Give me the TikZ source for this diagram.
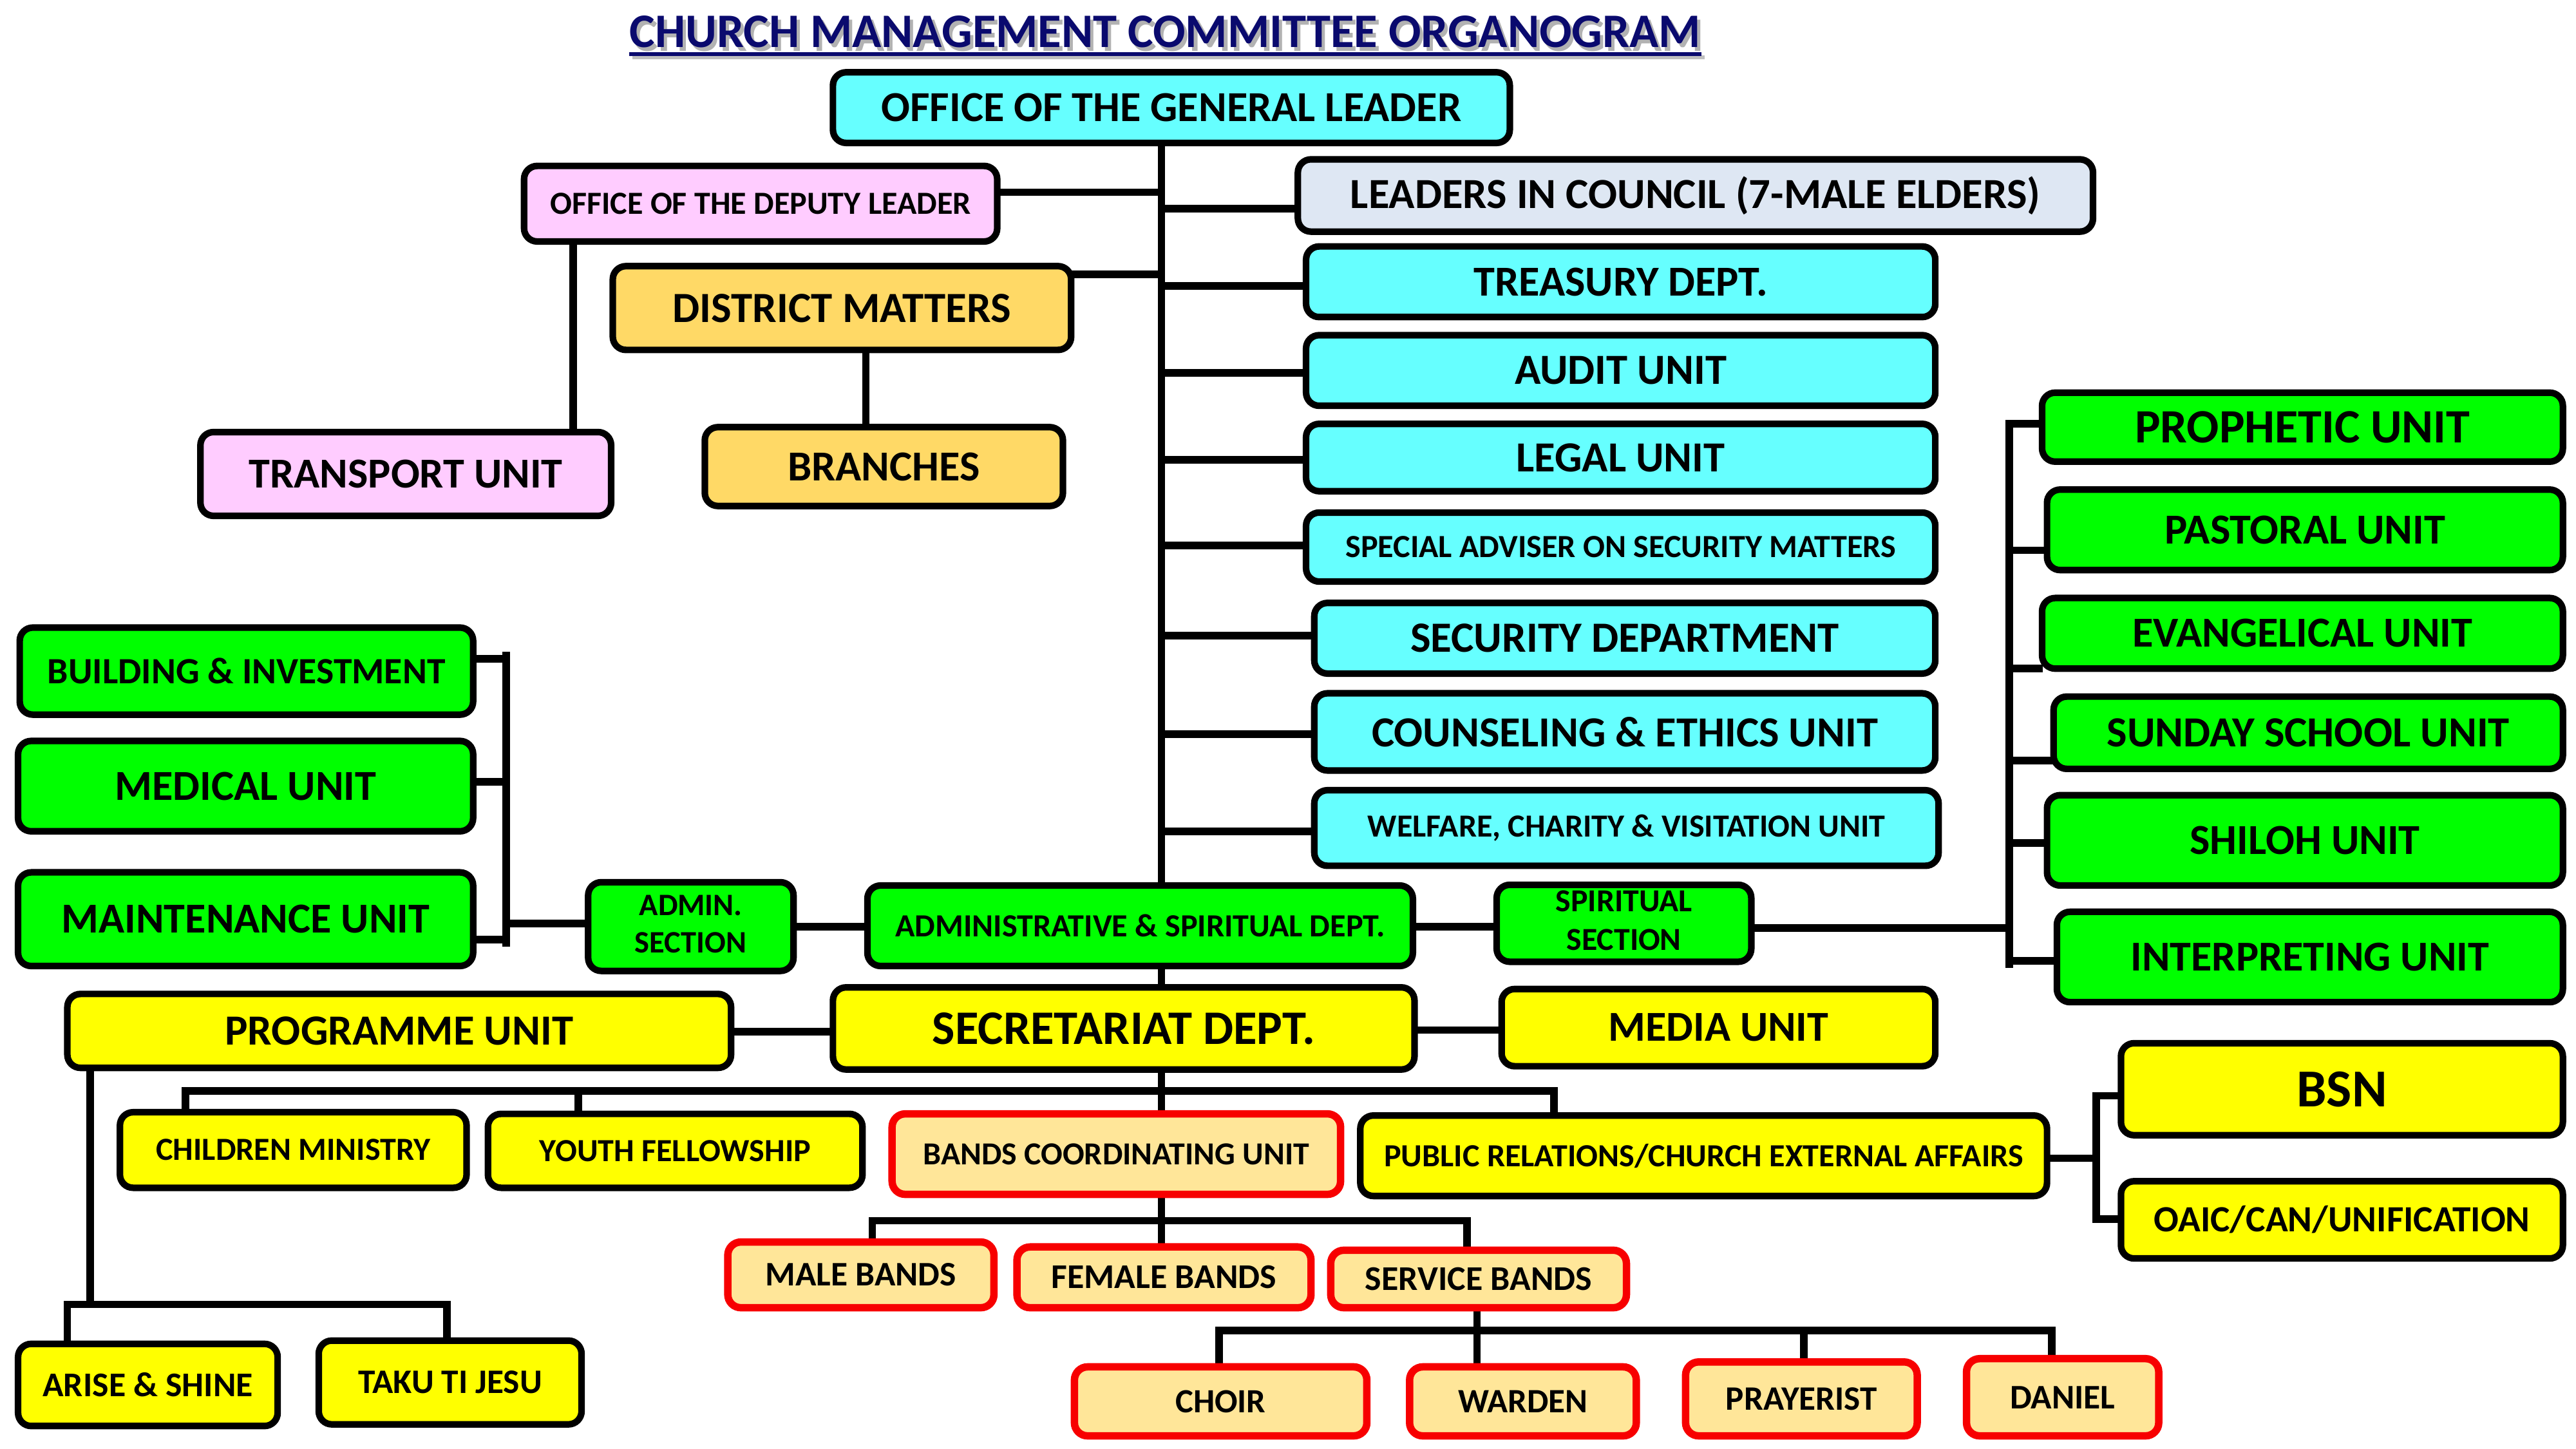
\documentclass[tikz,border=0pt]{standalone}
\usepackage{fontspec}
\setmainfont{Carlito}
\usepackage{graphicx}
\usetikzlibrary{backgrounds}
\definecolor{ccyan}{HTML}{66FFFF}
\definecolor{cpink}{HTML}{FFCCFF}
\definecolor{clblue}{HTML}{DEE7F3}
\definecolor{cgold}{HTML}{FFD966}
\definecolor{cgreen}{HTML}{00FF00}
\definecolor{cyell}{HTML}{FFFF00}
\definecolor{cband}{HTML}{FFE699}
\definecolor{cred}{HTML}{F70000}
\definecolor{ctitle}{RGB}{10,10,110}
\newcommand{\orgbox}[8]{%
  \pgfmathsetmacro{\obw}{#5-#3-4}%
  \pgfmathsetmacro{\obh}{#6-#4-4}%
  \pgfmathsetmacro{\obx}{(#3+#5)/2}%
  \pgfmathsetmacro{\oby}{(#4+#6)/2}%
  \node[#1, minimum width=\obw pt, minimum height=\obh pt] (#2) at (\obx,\oby) {\resizebox{#7pt}{!}{#8}};%
}
\newcommand{\twol}[2]{\begin{tabular}{@{}c@{}}#1\\#2\end{tabular}}
\tikzset{
  basebox/.style={draw=black, line width=4pt, rounded corners=8pt, inner sep=0pt, font=\bfseries, text=black},
  cbox/.style={basebox, fill=ccyan},
  pbox/.style={basebox, fill=cpink},
  lbbox/.style={basebox, fill=clblue},
  gdbox/.style={basebox, fill=cgold},
  grbox/.style={basebox, fill=cgreen},
  ylbox/.style={basebox, fill=cyell},
  bdbox/.style={basebox, draw=cred, line width=4.5pt, fill=cband},
  conn/.style={draw=black, line width=4.6pt, line cap=rect}
}
\begin{document}
\begin{tikzpicture}[x=1pt, y=-1pt]
\useasboundingbox (0,0) rectangle (1568,882);

% title
\node[anchor=base west, inner sep=0pt, text=gray!60, font=\bfseries] (tshadow) at (385,31) {\resizebox{652pt}{!}{CHURCH MANAGEMENT COMMITTEE ORGANOGRAM}};
\node[anchor=base west, inner sep=0pt, text=ctitle, font=\bfseries] (title) at (383,29) {\resizebox{652pt}{!}{CHURCH MANAGEMENT COMMITTEE ORGANOGRAM}};
\draw[gray!50, line width=2.5pt] (tshadow.base west |- 0,35) -- (tshadow.base east |- 0,35);
\draw[ctitle, line width=2.5pt] (title.base west |- 0,33) -- (title.base east |- 0,33);

% boxes
\orgbox{cbox}{gl}{505}{42}{921}{89}{353}{OFFICE OF THE GENERAL LEADER}
\orgbox{pbox}{dep}{317}{99}{609}{149}{256}{OFFICE OF THE DEPUTY LEADER}
\orgbox{lbbox}{lic}{788}{95}{1276}{143}{420}{LEADERS IN COUNCIL (7-MALE ELDERS)}
\orgbox{gdbox}{dis}{371}{160}{654}{215}{206}{DISTRICT MATTERS}
\orgbox{gdbox}{br}{427}{258}{649}{310}{117}{BRANCHES}
\orgbox{pbox}{tra}{120}{261}{374}{316}{191}{TRANSPORT UNIT}
\orgbox{cbox}{tre}{793}{148}{1180}{195}{179}{TREASURY DEPT.}
\orgbox{cbox}{aud}{793}{202}{1180}{249}{129}{AUDIT UNIT}
\orgbox{cbox}{leg}{793}{256}{1180}{301}{127}{LEGAL UNIT}
\orgbox{cbox}{spa}{793}{310}{1180}{356}{335}{SPECIAL ADVISER ON SECURITY MATTERS}
\orgbox{cbox}{sec}{798}{365}{1180}{412}{261}{SECURITY DEPARTMENT}
\orgbox{cbox}{cou}{798}{420}{1180}{471}{308}{COUNSELING \& ETHICS UNIT}
\orgbox{cbox}{wel}{798}{479}{1182}{529}{315}{WELFARE, CHARITY \& VISITATION UNIT}
\orgbox{grbox}{pro}{1241}{237}{1562}{283}{204}{PROPHETIC UNIT}
\orgbox{grbox}{pas}{1244}{296}{1562}{349}{171}{PASTORAL UNIT}
\orgbox{grbox}{eva}{1241}{362}{1562}{409}{207}{EVANGELICAL UNIT}
\orgbox{grbox}{sun}{1248}{422}{1562}{470}{245}{SUNDAY SCHOOL UNIT}
\orgbox{grbox}{shi}{1244}{482}{1562}{541}{140}{SHILOH UNIT}
\orgbox{grbox}{int}{1250}{553}{1562}{612}{218}{INTERPRETING UNIT}
\orgbox{grbox}{bui}{10}{380}{290}{437}{242}{BUILDING \& INVESTMENT}
\orgbox{grbox}{med}{9}{449}{290}{508}{159}{MEDICAL UNIT}
\orgbox{grbox}{mai}{9}{529}{290}{590}{224}{MAINTENANCE UNIT}
\orgbox{grbox}{adm}{356}{535}{485}{593}{68}{\twol{ADMIN.}{SECTION}}
\orgbox{grbox}{ads}{526}{537}{862}{590}{298}{ADMINISTRATIVE \& SPIRITUAL DEPT.}
\orgbox{grbox}{spi}{909}{537}{1068}{587}{83}{\twol{SPIRITUAL}{SECTION}}
\orgbox{ylbox}{prg}{39}{603}{447}{652}{212}{PROGRAMME UNIT}
\orgbox{ylbox}{sct}{505}{599}{863}{653}{233}{SECRETARIAT DEPT.}
\orgbox{ylbox}{mdu}{912}{600}{1180}{651}{134}{MEDIA UNIT}
\orgbox{ylbox}{bsn}{1289}{633}{1562}{693}{55}{BSN}
\orgbox{ylbox}{oai}{1289}{717}{1562}{768}{229}{OAIC/CAN/UNIFICATION}
\orgbox{ylbox}{chi}{71}{675}{286}{725}{167}{CHILDREN MINISTRY}
\orgbox{ylbox}{you}{295}{676}{527}{725}{165}{YOUTH FELLOWSHIP}
\orgbox{bdbox}{bcu}{541}{676}{818}{729}{235}{BANDS COORDINATING UNIT}
\orgbox{ylbox}{pub}{826}{677}{1248}{730}{389}{PUBLIC RELATIONS/CHURCH EXTERNAL AFFAIRS}
\orgbox{bdbox}{mal}{441}{754}{607}{798}{116}{MALE BANDS}
\orgbox{bdbox}{fem}{617}{757}{800}{798}{137}{FEMALE BANDS}
\orgbox{bdbox}{ser}{808}{759}{992}{798}{138}{SERVICE BANDS}
\orgbox{ylbox}{ari}{9}{816}{171}{870}{128}{ARISE \& SHINE}
\orgbox{ylbox}{tak}{192}{814}{356}{869}{112}{TAKU TI JESU}
\orgbox{bdbox}{cho}{652}{830}{834}{876}{55}{CHOIR}
\orgbox{bdbox}{war}{856}{830}{998}{876}{79}{WARDEN}
\orgbox{bdbox}{pra}{1024}{827}{1169}{876}{92}{PRAYERIST}
\orgbox{bdbox}{dan}{1195}{825}{1316}{876}{64}{DANIEL}

% junction coordinates
\coordinate (tk) at (707,0);
\coordinate (lb) at (308,0);
\coordinate (rb) at (1223,0);
\coordinate (b1) at (113,664);
\coordinate (b2) at (352,664);
\coordinate (b4) at (946,664);
\coordinate (p0) at (41,794);
\coordinate (p1) at (55,794);
\coordinate (p2) at (272,794);
\coordinate (m0) at (531,743);
\coordinate (m2) at (893,743);
\coordinate (s0) at (742,810);
\coordinate (s1) at (899,810);
\coordinate (s2) at (1098,810);
\coordinate (s3) at (1249,810);
\coordinate (q) at (1276,705);

\begin{pgfonlayer}{background}
\fill[white] (0,0) rectangle (1568,882);
% trunk
\draw[conn] (gl.south -| tk) -- (ads.north -| tk);
\draw[conn] (ads.south -| tk) -- (sct.north -| tk);
\draw[conn] (sct.south -| tk) -- (bcu.north -| tk);
\draw[conn] (bcu.south -| tk) -- (fem.north -| tk);
% stubs from trunk
\draw[conn] (dep.east |- 0,117) -- (tk |- 0,117);
\draw[conn] (tk |- 0,127) -- (lic.west |- 0,127);
\draw[conn] (dis.east |- 0,167) -- (tk |- 0,167);
\draw[conn] (tk |- 0,174) -- (tre.west |- 0,174);
\draw[conn] (tk |- 0,227) -- (aud.west |- 0,227);
\draw[conn] (tk |- 0,280) -- (leg.west |- 0,280);
\draw[conn] (tk |- 0,332) -- (spa.west |- 0,332);
\draw[conn] (tk |- 0,387) -- (sec.west |- 0,387);
\draw[conn] (tk |- 0,447) -- (cou.west |- 0,447);
\draw[conn] (tk |- 0,506) -- (wel.west |- 0,506);
% deputy and district
\draw[conn] (dep.south -| 349,0) -- (tra.north -| 349,0);
\draw[conn] (dis.south -| 527,0) -- (br.north -| 527,0);
% admin side
\draw[conn] (adm.east |- 0,564) -- (ads.west |- 0,564);
\draw[conn] (adm.west |- 0,562) -- (lb |- 0,562);
\draw[conn] (lb |- 0,399) -- (lb |- 0,574);
\draw[conn] (bui.east |- 0,401) -- (lb |- 0,401);
\draw[conn] (med.east |- 0,476) -- (lb |- 0,476);
\draw[conn] (mai.east |- 0,572) -- (lb |- 0,572);
% spiritual side
\draw[conn] (ads.east |- 0,564) -- (spi.west |- 0,564);
\draw[conn] (spi.east |- 0,565) -- (rb |- 0,565);
\draw[conn] (rb |- 0,258) -- (rb |- 0,587);
\draw[conn] (rb |- 0,258) -- (pro.west |- 0,258);
\draw[conn] (rb |- 0,335) -- (pas.west |- 0,335);
\draw[conn] (rb |- 0,407) -- (eva.west |- 0,407);
\draw[conn] (rb |- 0,463) -- (sun.west |- 0,463);
\draw[conn] (rb |- 0,513) -- (shi.west |- 0,513);
\draw[conn] (rb |- 0,585) -- (int.west |- 0,585);
% secretariat
\draw[conn] (prg.east |- 0,628) -- (sct.west |- 0,628);
\draw[conn] (sct.east |- 0,627) -- (mdu.west |- 0,627);
\draw[conn] (chi.north -| b1) -- (b1) -- (b4) -- (pub.north -| b4);
\draw[conn] (b2) -- (you.north -| b2);
% programme
\draw[conn] (prg.south -| p1) -- (p1);
\draw[conn] (ari.north -| p0) -- (p0) -- (p2) -- (tak.north -| p2);
% bands
\draw[conn] (mal.north -| m0) -- (m0) -- (m2) -- (ser.north -| m2);
\draw[conn] (ser.south -| s1) -- (war.north -| s1);
\draw[conn] (cho.north -| s0) -- (s0) -- (s3) -- (dan.north -| s3);
\draw[conn] (s2) -- (pra.north -| s2);
% public relations
\draw[conn] (pub.east |- q) -- (q);
\draw[conn] (bsn.west |- 0,667) -- (q |- 0,667) -- (q |- 0,742) -- (oai.west |- 0,742);
\end{pgfonlayer}
\end{tikzpicture}
\end{document}
